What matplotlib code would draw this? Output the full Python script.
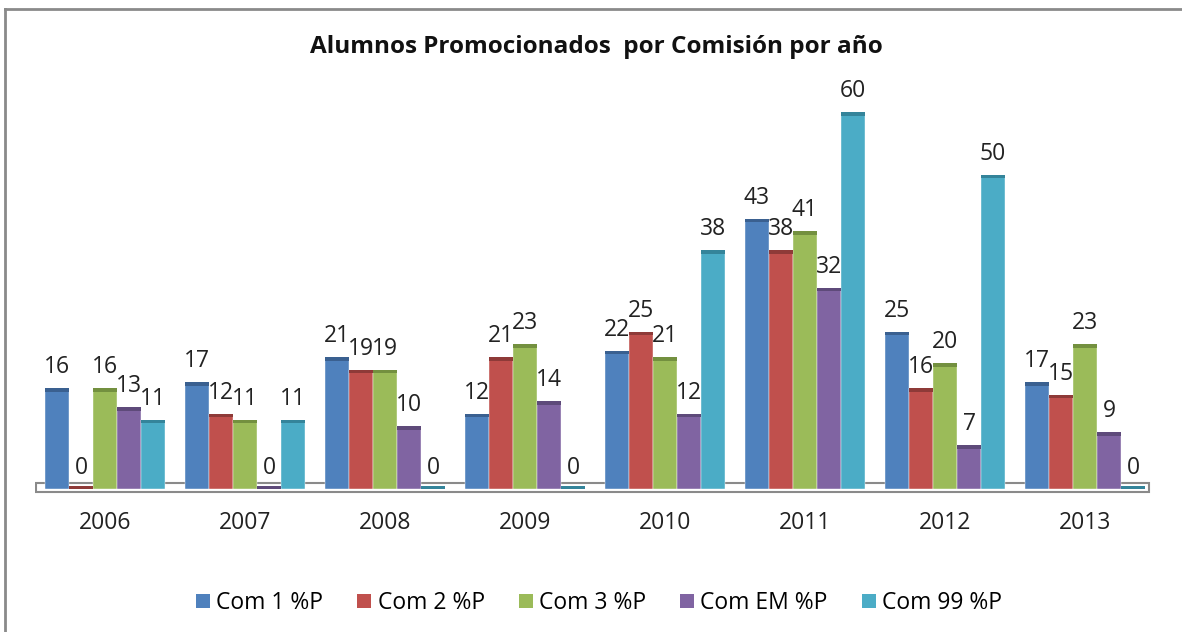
import matplotlib
matplotlib.use("Agg")
import matplotlib.pyplot as plt
from matplotlib.patches import Rectangle
from matplotlib.lines import Line2D
import numpy as np

years = ["2006", "2007", "2008", "2009", "2010", "2011", "2012", "2013"]
series_names = ["Com 1 %P", "Com 2 %P", "Com 3 %P", "Com EM %P", "Com 99 %P"]
com1 = [16, 17, 21, 12, 22, 43, 25, 17]
com2 = [0, 12, 19, 21, 25, 38, 16, 15]
com3 = [16, 11, 19, 23, 21, 41, 20, 23]
comEM = [13, 0, 10, 14, 12, 32, 7, 9]
com99 = [11, 11, 0, 0, 38, 60, 50, 0]
series = [com1, com2, com3, comEM, com99]

colors = ["#4F81BD", "#C0504D", "#9BBB59", "#8064A2", "#4BACC6"]
caps = ["#3A6090", "#8E3A38", "#73903F", "#5E4A7A", "#34849A"]

FONT = ["Open Sans", "DejaVu Sans"]
plt.rcParams['font.family'] = FONT

W, H = 1182, 632
fig = plt.figure(figsize=(W / 100, H / 100), dpi=100)

# outer frame (left and top visible)
fig.add_artist(Line2D([5 / W, 5 / W], [0, 1 - 9 / H], transform=fig.transFigure,
                      color="#8A8A8A", lw=2))
fig.add_artist(Line2D([5 / W, 1], [1 - 9 / H, 1 - 9 / H], transform=fig.transFigure,
                      color="#8A8A8A", lw=2))

px_per_unit = (489 - 112) / 60.0
ax_left, ax_right = 35, 1155
ax_top, ax_bot = 80, 500
ax = fig.add_axes([ax_left / W, 1 - ax_bot / H, (ax_right - ax_left) / W, (ax_bot - ax_top) / H])
ax.set_xlim(-0.5, len(years) - 0.5)
ax.set_ylim(-(ax_bot - 489) / px_per_unit, (489 - ax_top) / px_per_unit)
ax.axis("off")

x = np.arange(len(years))
bw = 24 / 140.0
cap_h = 3.5 / px_per_unit

# floor slab
ax.add_patch(Rectangle((-0.49, -3 / px_per_unit), 7.95, 9 / px_per_unit,
                       facecolor="white", edgecolor="#8A8A8A", lw=1.5, zorder=1))

for i, (vals, c, cc) in enumerate(zip(series, colors, caps)):
    xs = x + (i - 2) * bw
    v = np.array(vals, dtype=float)
    ax.bar(xs, v, width=bw, color=c, edgecolor="white", linewidth=0.3, zorder=3)
    ax.bar(xs, cap_h, bottom=np.maximum(v - cap_h, 0), width=bw, color=cc,
           linewidth=0, zorder=4)
    for xi, vi in zip(xs, vals):
        ax.text(xi, vi + 21 / px_per_unit, str(vi), ha="center", va="center",
                fontsize=16.5, color="#222222", zorder=5)

for xi, yl in zip(x, years):
    ax.text(xi, -(523 - 489) / px_per_unit, yl, ha="center", va="center",
            fontsize=16.5, color="#222222", clip_on=False)

fig.text(596 / W, 1 - 47 / H, "Alumnos Promocionados  por Comisión por año",
         ha="center", va="center", fontsize=17.5, fontweight="bold", color="#111111")

handles = [Rectangle((0, 0), 1, 1, facecolor=c) for c in colors]
fig.legend(handles, series_names, loc="center", bbox_to_anchor=(599 / W, 1 - 603 / H),
           ncol=5, frameon=False, fontsize=16.5, handlelength=0.62, handleheight=0.62,
           handletextpad=0.27, columnspacing=1.48)

fig.savefig("out.png", dpi=100)
